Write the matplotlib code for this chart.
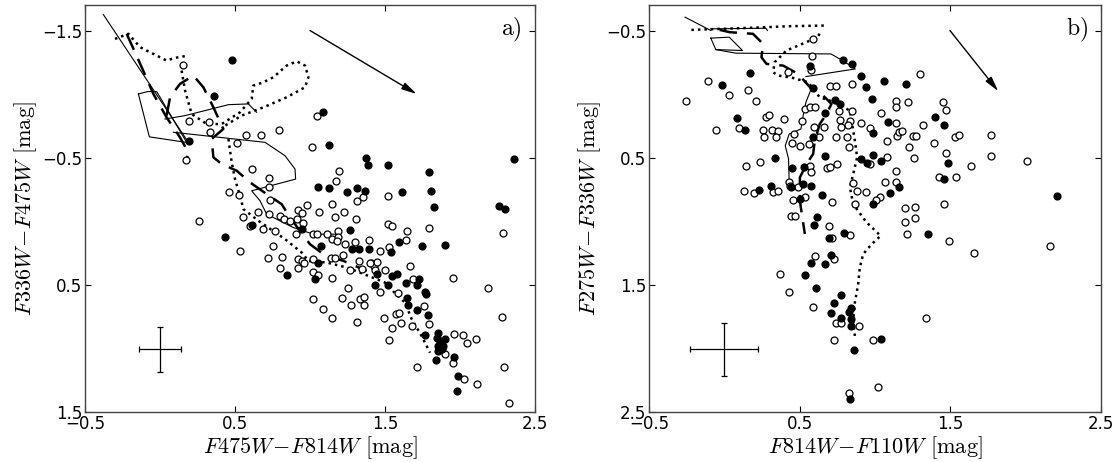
import matplotlib
matplotlib.use("Agg")
import matplotlib.pyplot as plt
import numpy as np

plt.rcParams['mathtext.fontset'] = 'cm'
plt.rcParams['font.family'] = 'DejaVu Sans'

# ---------------- Panel a data ----------------
a_fill_x = [0.482, 0.36, 1.084, 1.124, 0.196, 1.373, 1.387, 1.518, 1.793, 2.36,
            1.051, 1.124, 1.244, 1.316, 1.364, 1.616, 1.804, 1.827, 2.262, 2.298,
            0.611, 0.431, 0.944, 1.264, 1.596, 1.744, 1.898, 1.071, 1.278, 1.329,
            1.391, 1.538, 1.051, 0.844, 1.036, 1.449, 1.549, 1.578, 1.436, 1.518,
            1.638, 1.716, 1.727, 1.767, 1.773, 1.644, 1.656, 1.716, 1.784, 1.767,
            1.851, 1.844, 1.867, 1.851, 1.878, 1.9, 1.889, 1.856, 1.96, 1.838,
            1.984, 1.978]
a_fill_y = [-1.269, -0.988, -0.857, -0.6, -0.629, -0.5, -0.445, -0.44, -0.387, -0.49,
            -0.267, -0.259, -0.227, -0.259, -0.238, -0.227, -0.238, -0.109, -0.122, -0.098,
            0.028, 0.122, 0.064, 0.072, 0.159, 0.193, 0.188, 0.193, 0.219, 0.219,
            0.219, 0.238, 0.324, 0.421, 0.45, 0.411, 0.427, 0.411, 0.503, 0.503,
            0.485, 0.503, 0.453, 0.553, 0.568, 0.6, 0.658, 0.694, 0.737, 0.894,
            0.876, 0.915, 0.941, 0.981, 1.007, 0.928, 0.981, 1.02, 1.067, 1.093,
            1.214, 1.335]

a_open_x = [0.151, 0.191, 0.324, 0.333, 0.171, 0.573, 0.671, 0.793, 0.511, 1.044,
            1.016, 0.611, 0.724, 0.729, 0.46, 0.529, 0.733, 0.262, 0.553, 0.602,
            0.656, 0.684, 0.727, 0.767, 0.751, 0.722, 0.811, 0.8, 0.533, 0.8,
            0.827, 0.867, 0.916, 0.956, 0.922, 0.944, 0.982, 1.062, 1.144, 1.167,
            1.224, 1.304, 1.311, 1.356, 1.196, 1.176, 1.518, 1.522, 1.544, 1.644,
            1.638, 1.796, 2.289, 0.904, 1.022, 1.044, 1.111, 1.184, 1.144, 1.233,
            1.302, 1.396, 1.467, 1.529, 0.922, 0.944, 0.962, 1.022, 1.022, 1.056,
            1.14, 1.167, 1.222, 1.267, 1.327, 1.344, 1.404, 1.427, 1.449, 1.433,
            1.5, 0.922, 1.144, 1.256, 1.467, 1.022, 1.084, 1.144, 1.216, 1.271,
            1.333, 1.358, 1.362, 1.311, 1.493, 1.544, 1.527, 1.604, 1.573, 1.593,
            1.584, 1.667, 1.684, 1.678, 1.76, 1.796, 1.716, 1.951, 2.189, 2.278,
            1.96, 2.018, 2.049, 2.107, 1.9, 1.951, 2.027, 2.116, 2.296, 2.329,
            1.189, 1.4, 1.178]
a_open_y = [-1.229, -0.792, -0.778, -0.7, -0.482, -0.679, -0.679, -0.72, -0.616, -0.831,
            -0.586, -0.408, -0.34, -0.272, -0.227, -0.206, -0.169, 0.001, -0.035, 0.035,
            -0.077, 0.062, -0.054, 0.08, 0.193, 0.285, 0.277, 0.369, 0.232, -0.043,
            -0.017, 0.001, -0.017, 0.017, -0.088, -0.067, -0.13, -0.07, -0.14, -0.03,
            -0.07, -0.015, -0.156, -0.193, -0.398, -0.319, -0.201, 0.022, 0.033, 0.075,
            0.143, 0.054, 0.093, 0.101, 0.101, 0.101, 0.101, 0.075, 0.14, 0.18,
            0.159, 0.143, 0.232, 0.201, 0.298, 0.311, 0.324, 0.3, 0.397, 0.421,
            0.285, 0.285, 0.264, 0.385, 0.311, 0.377, 0.324, 0.351, 0.316, 0.385,
            0.385, 0.369, 0.442, 0.527, 0.553, 0.608, 0.692, 0.758, 0.6, 0.66,
            0.613, 0.658, 0.595, 0.791, 0.764, 0.837, 0.934, 0.802, 0.731, 0.718,
            0.566, 0.351, 0.45, 0.823, 0.665, 0.805, 1.143, 0.442, 0.521, 0.752,
            0.883, 0.894, 0.954, 0.923, 1.041, 1.112, 1.243, 1.282, 1.143, 1.426,
            0.12, 0.325, 0.155]

# model tracks, panel a
a_sol1_x = [-0.378, 0.189]
a_sol1_y = [-1.626, -0.621]
a_sol2_x = [-0.144, -0.071, 0.178, -0.022, -0.082, -0.144]
a_sol2_y = [-1.001, -0.664, -0.62, -1.02, -1.02, -1.001]
a_sol3_x = [0.033, 0.167, 0.456, 0.589, 0.644]
a_sol3_y = [-0.804, -0.831, -0.917, -0.923, -0.857]
a_sol4_x = [0.089, 0.7, 0.833, 0.9, 0.904, 0.611, 0.667, 0.711, 0.889, 1.022, 1.189]
a_sol4_y = [-0.7, -0.621, -0.516, -0.411, -0.332, -0.24, -0.161, -0.056, 0.049, 0.101, 0.101]

a_dsh1_x = [-0.222, -0.122, -0.044, 0.044, 0.133, 0.189, 0.178]
a_dsh1_y = [-1.474, -1.211, -1.001, -0.817, -0.66, -0.542, -0.49]
a_dsh2_x = [0.044, 0.067, 0.133, 0.222, 0.289, 0.356, 0.422, 0.344, 0.356, 0.411,
            0.511, 0.6, 0.711, 0.811, 0.867, 0.933, 1.0, 1.089, 1.222, 1.378]
a_dsh2_y = [-0.831, -0.975, -1.08, -1.146, -1.054, -0.896, -0.726, -0.647, -0.503, -0.45,
            -0.398, -0.306, -0.214, -0.135, -0.03, 0.075, 0.18, 0.258, 0.311, 0.39]

a_dot1_x = [-0.3, -0.211, -0.133, -0.044, 0.044, 0.1, 0.189]
a_dot1_y = [-1.434, -1.474, -1.369, -1.316, -1.264, -1.285, -1.303]
a_dot2_x = [0.144, 0.167, 0.211, 0.311, 0.411, 0.533, 0.611, 0.622, 0.689, 0.756,
            0.844, 0.911, 0.967, 0.989, 0.967, 0.844, 0.689, 0.544, 0.433]
a_dot2_y = [-1.185, -1.028, -0.844, -0.765, -0.765, -0.857, -0.962, -1.067, -1.093, -1.133,
            -1.224, -1.258, -1.224, -1.133, -1.054, -0.975, -0.896, -0.831, -0.752]
a_dot3_x = [0.456, 0.478, 0.5, 0.533, 0.556, 0.656, 0.833, 0.944, 0.989, 1.111,
            1.244, 1.389, 1.5, 1.567, 1.633, 1.678, 1.744, 1.8]
a_dot3_y = [-0.647, -0.463, -0.332, -0.201, -0.096, -0.004, 0.14, 0.245, 0.311, 0.324,
            0.363, 0.429, 0.482, 0.566, 0.639, 0.77, 0.902, 1.033]

# ---------------- Panel b data ----------------
b_fill_x = [0.788, 0.848, 0.567, 0.168, -0.013, 0.589, 0.91, 0.937, 1.059, 1.205,
            0.981, 0.733, 0.767, 0.667, 0.086, 0.137, 0.589, 0.988, 1.087, 1.398,
            1.455, 0.339, 0.667, 0.91, 0.947, 0.988, 1.037, 0.45, 0.527, 1.482,
            1.458, 0.31, 0.23, 0.445, 0.523, 0.574, 0.5, 0.645, 0.988, 1.096,
            1.158, 2.208, 0.618, 0.596, 0.695, 0.795, 1.349, 0.706, 0.578, 0.669,
            0.538, 0.611, 0.777, 0.729, 0.706, 0.771, 0.84, 0.826, 0.84, 0.84,
            1.037, 0.859, 0.837]
b_fill_y = [-0.269, -0.238, -0.219, -0.169, -0.075, -0.049, -0.143, -0.059, -0.106, -0.08,
            0.041, 0.046, 0.077, 0.151, 0.19, 0.282, 0.34, 0.303, 0.222, 0.182,
            0.243, 0.505, 0.484, 0.513, 0.545, 0.476, 0.524, 0.582, 0.576, 0.542,
            0.671, 0.72, 0.754, 0.734, 0.708, 0.72, 0.825, 0.794, 0.86, 0.781,
            0.734, 0.804, 0.965, 1.03, 1.133, 1.088, 1.101, 1.264, 1.324, 1.332,
            1.421, 1.521, 1.581, 1.644, 1.723, 1.762, 1.684, 1.71, 1.77, 1.823,
            1.923, 2.014, 2.4]

b_open_x = [0.589, 0.584, 0.578, 0.419, -0.111, 0.029, 0.157, -0.252, 0.208, 0.704,
            0.74, 0.848, 1.298, 1.138, 1.138, 1.22, 1.449, 1.468, 0.279, 0.295,
            0.399, -0.053, 0.097, 0.257, 0.317, 0.357, 0.266, 0.341, 0.536, 0.571,
            0.6, 0.518, 0.593, 0.662, 0.759, 0.848, 0.766, 0.832, 0.777, 0.822,
            0.744, 0.817, 0.826, 0.904, 0.966, 1.037, 1.138, 1.147, 1.156, 1.176,
            1.076, 1.227, 1.254, 1.269, 1.319, 1.258, 1.389, 1.53, 1.559, 1.767,
            1.767, 2.007, 1.637, 1.468, 1.537, 1.426, 1.457, 1.2, 1.267, 1.267,
            1.196, 1.209, 1.488, 1.659, 2.159, 1.338, 1.138, 1.138, 1.069, 1.032,
            1.003, 0.939, 0.966, 1.076, 0.879, 0.87, 0.855, 0.447, 0.501, 0.56,
            0.626, 0.465, 0.146, 0.239, 0.567, 0.578, 0.684, 0.704, 0.427, 0.434,
            0.489, 0.128, 0.197, 0.326, 0.359, 0.456, 0.538, 0.715, 0.445, 0.472,
            0.695, 0.715, 0.837, 0.729, 0.6, 0.368, 0.43, 0.589, 0.738, 0.777,
            0.893, 0.729, 0.988, 1.017, 0.826, 0.75]
b_open_y = [-0.434, -0.298, -0.193, -0.172, -0.106, 0.004, -0.036, 0.051, 0.051, -0.067,
            -0.067, -0.08, -0.159, 0.051, 0.104, 0.064, 0.062, 0.122, 0.182, 0.161,
            0.193, 0.28, 0.269, 0.28, 0.282, 0.287, 0.334, 0.34, 0.117, 0.104,
            0.104, 0.214, 0.261, 0.261, 0.13, 0.13, 0.203, 0.214, 0.261, 0.243,
            0.34, 0.34, 0.419, 0.227, 0.269, 0.151, 0.23, 0.327, 0.3, 0.287,
            0.371, 0.419, 0.332, 0.327, 0.24, 0.503, 0.385, 0.335, 0.322, 0.322,
            0.484, 0.524, 0.563, 0.466, 0.655, 0.65, 0.862, 0.896, 0.891, 0.975,
            1.004, 1.101, 1.153, 1.253, 1.193, 1.762, 0.602, 0.689, 0.694, 0.812,
            0.833, 0.77, 0.549, 0.492, 0.765, 0.86, 0.702, 0.388, 0.411, 0.393,
            0.34, 0.314, 0.563, 0.532, 0.569, 0.616, 0.582, 0.576, 0.694, 0.72,
            0.734, 0.765, 0.781, 0.773, 0.765, 0.833, 0.812, 0.852, 0.962, 0.962,
            1.035, 1.133, 1.106, 1.293, 1.272, 1.411, 1.553, 1.673, 1.802, 1.802,
            1.823, 1.936, 1.936, 2.303, 2.353, 0.55]

# model tracks, panel b
b_sol1_x = [-0.261, -0.09]
b_sol1_y = [-0.605, -0.5]
b_sol2_x = [-0.09, 0.275, 0.286]
b_sol2_y = [-0.513, -0.518, -0.5]
b_sol3_x = [-0.09, -0.057, 0.12, 0.032, -0.09]
b_sol3_y = [-0.44, -0.35, -0.343, -0.448, -0.44]
b_sol4_x = [-0.057, 0.076, 0.707, 0.785, 0.869, 0.541]
b_sol4_y = [-0.35, -0.322, -0.316, -0.264, -0.198, -0.138]
b_sol5_x = [0.585, 0.541, 0.523, 0.508, 0.43, 0.404, 0.426, 0.43]
b_sol5_y = [-0.067, 0.064, 0.169, 0.274, 0.314, 0.406, 0.51, 0.694]

b_dsh_x = [-0.031, 0.035, 0.19, 0.257, 0.246, 0.279, 0.39, 0.489, 0.578, 0.656,
           0.711, 0.678, 0.633, 0.6, 0.589, 0.545, 0.501, 0.501, 0.534]
b_dsh_y = [-0.505, -0.487, -0.474, -0.395, -0.29, -0.238, -0.224, -0.159, -0.041, 0.012,
           0.077, 0.156, 0.235, 0.366, 0.471, 0.55, 0.655, 0.839, 1.1]

b_dot1_x = [-0.219, 0.168, 0.434, 0.667]
b_dot1_y = [-0.505, -0.521, -0.534, -0.539]
b_dot2_x = [0.633, 0.611, 0.412, 0.334, 0.323, 0.357, 0.456, 0.556, 0.633, 0.733,
            0.833, 0.866, 0.881, 0.855, 0.833, 0.855, 0.944, 1.037, 0.977, 0.921,
            0.899, 0.888, 0.866, 0.855, 0.866]
b_dot2_y = [-0.474, -0.442, -0.343, -0.251, -0.172, -0.146, -0.127, -0.093, 0.025, 0.064,
            0.13, 0.366, 0.497, 0.628, 0.734, 0.865, 1.009, 1.114, 1.18, 1.258,
            1.363, 1.495, 1.639, 1.783, 1.901]

# error bars, reddening arrows
a_err = dict(x=0.0, y=1.007, xerr=0.138, yerr=0.18)
b_err = dict(x=0.0, y=2.007, xerr=0.225, yerr=0.207)
a_arrow = ((1.0, -1.5), (1.711, -1.001))
b_arrow = ((1.497, -0.5), (1.818, -0.022))

xticks = [-0.5, 0.5, 1.5, 2.5]
a_yticks = [-1.5, -0.5, 0.5, 1.5]
b_yticks = [-0.5, 0.5, 1.5, 2.5]

fig = plt.figure(figsize=(11.2, 4.62), dpi=100)
axa = fig.add_axes([0.0759, 0.108, 0.4018, 0.881])
axb = fig.add_axes([0.5795, 0.108, 0.4036, 0.881])

sol_kw = dict(color='black', lw=0.8)
dsh_kw = dict(color='black', lw=1.8, dashes=(7, 4))
dot_kw = dict(color='black', lw=1.8, dashes=(1, 1.6))

def draw_panel(ax, sols, dshs, dots, fx, fy, ox, oy, err, arrow, ylim, yticks,
               xlabel, ylabel, tag):
    for xs, ys in sols:
        ax.plot(xs, ys, **sol_kw, zorder=2)
    for xs, ys in dshs:
        ax.plot(xs, ys, **dsh_kw, zorder=2)
    for xs, ys in dots:
        ax.plot(xs, ys, **dot_kw, zorder=2)
    ax.plot(ox, oy, 'o', ms=5, mfc='white', mec='black', mew=0.9, ls='none', zorder=3)
    ax.plot(fx, fy, 'o', ms=5, mfc='black', mec='black', mew=0.9, ls='none', zorder=4)
    ax.errorbar(err['x'], err['y'], xerr=err['xerr'], yerr=err['yerr'], fmt='none',
                ecolor='black', elinewidth=0.9, capsize=2.5, capthick=0.9)
    ax.annotate('', xy=arrow[1], xytext=arrow[0],
                arrowprops=dict(arrowstyle='-|>,head_length=0.9,head_width=0.22',
                                color='black', lw=1.0, shrinkA=0, shrinkB=0))
    ax.set_xlim(-0.5, 2.5)
    ax.set_ylim(*ylim)
    ax.set_xticks(xticks)
    ax.set_yticks(yticks)
    ax.set_xticklabels(['\u22120.5', '0.5', '1.5', '2.5'])
    ax.set_yticklabels([('\u2212' + str(abs(t))) if t < 0 else str(t) for t in yticks])
    ax.tick_params(direction='in', top=True, right=True, length=4, width=0.8,
                   labelsize=12, pad=2)
    for s in ax.spines.values():
        s.set_color('#444444')
        s.set_linewidth(1.0)
    ax.set_xlabel(xlabel, fontsize=16, labelpad=1)
    ax.set_ylabel(ylabel, fontsize=16, labelpad=2)
    ax.text(0.97, 0.94, tag, transform=ax.transAxes, ha='right', va='center',
            fontsize=17)

draw_panel(axa,
           [(a_sol1_x, a_sol1_y), (a_sol2_x, a_sol2_y), (a_sol3_x, a_sol3_y), (a_sol4_x, a_sol4_y)],
           [(a_dsh1_x, a_dsh1_y), (a_dsh2_x, a_dsh2_y)],
           [(a_dot1_x, a_dot1_y), (a_dot2_x, a_dot2_y), (a_dot3_x, a_dot3_y)],
           a_fill_x, a_fill_y, a_open_x, a_open_y, a_err, a_arrow,
           (1.5, -1.7), a_yticks,
           r'$F475W\!-\!F814W\ [\mathrm{mag}]$', r'$F336W\!-\!F475W\ [\mathrm{mag}]$',
           r'$\mathrm{a)}$')
draw_panel(axb,
           [(b_sol1_x, b_sol1_y), (b_sol2_x, b_sol2_y), (b_sol3_x, b_sol3_y),
            (b_sol4_x, b_sol4_y), (b_sol5_x, b_sol5_y)],
           [(b_dsh_x, b_dsh_y)],
           [(b_dot1_x, b_dot1_y), (b_dot2_x, b_dot2_y)],
           b_fill_x, b_fill_y, b_open_x, b_open_y, b_err, b_arrow,
           (2.5, -0.7), b_yticks,
           r'$F814W\!-\!F110W\ [\mathrm{mag}]$', r'$F275W\!-\!F336W\ [\mathrm{mag}]$',
           r'$\mathrm{b)}$')

fig.savefig('out.png', dpi=100)
